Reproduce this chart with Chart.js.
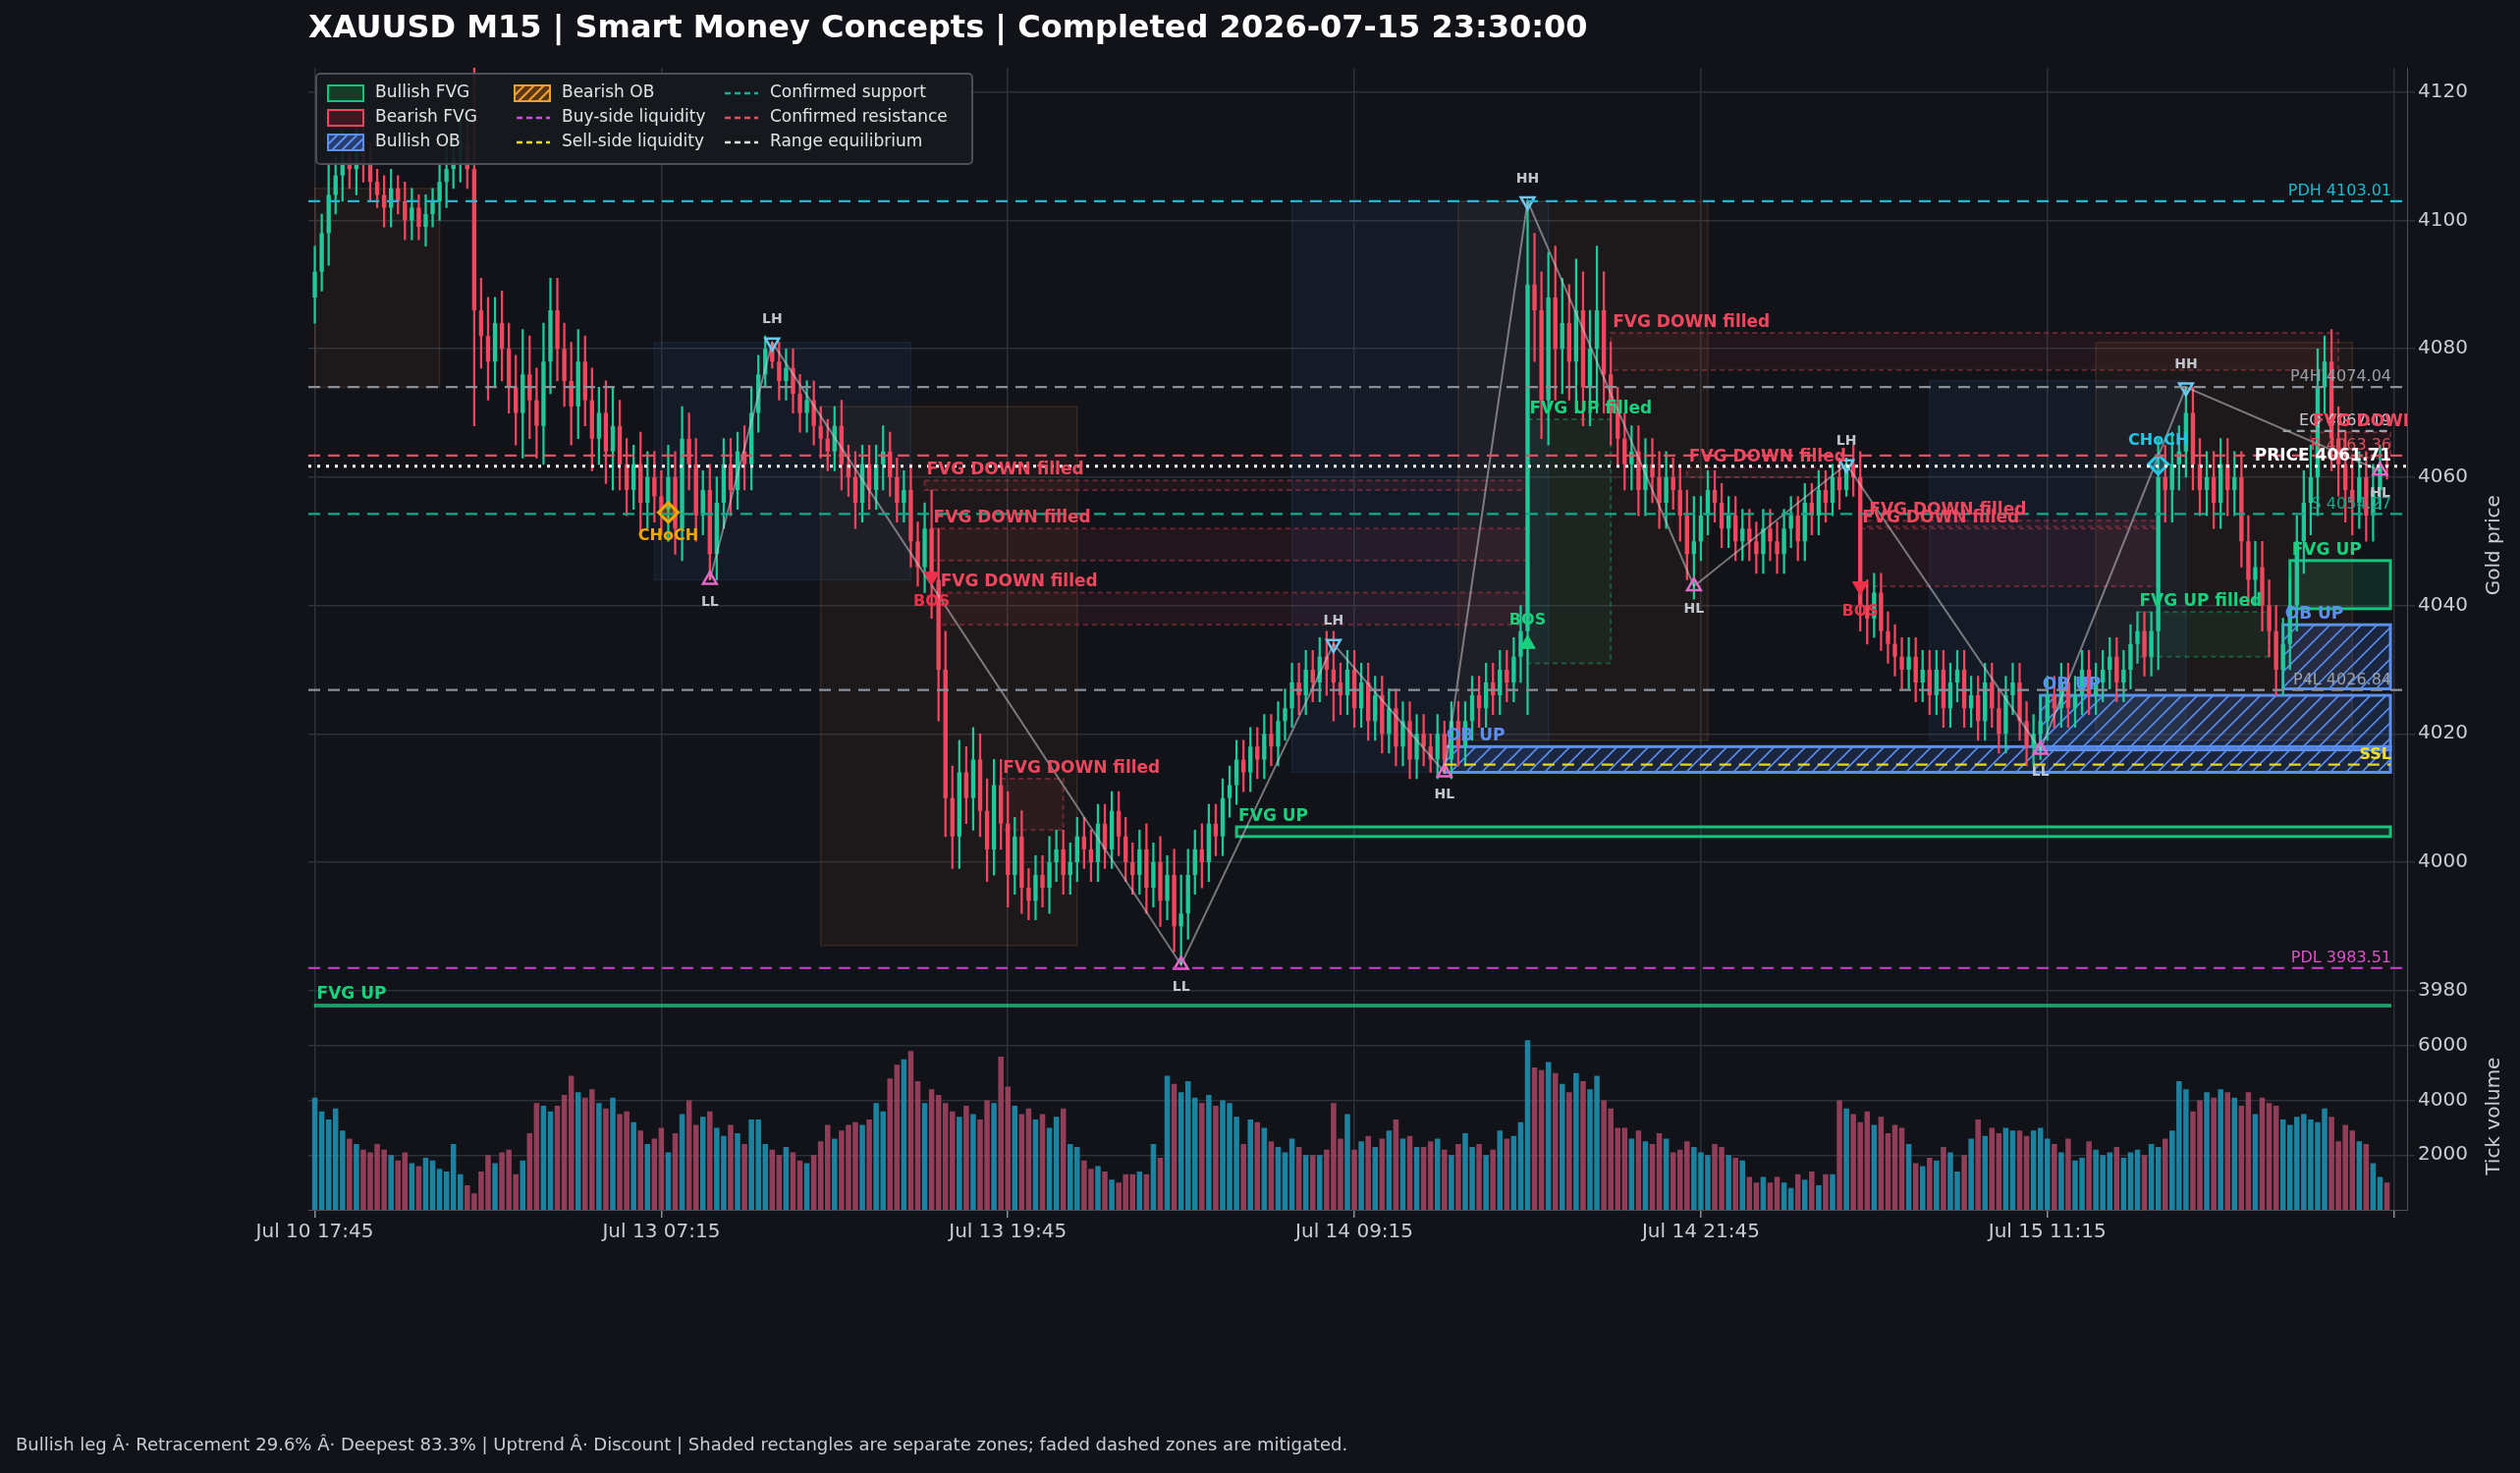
<!DOCTYPE html>
<html><head><meta charset="utf-8">
<script src="https://cdn.jsdelivr.net/npm/chart.js@4.4.0/dist/chart.umd.min.js"></script>
<style>html,body{margin:0;background:#111318;}#c{display:block;}</style>
</head><body>
<div style="width:2566px;height:1500px"><canvas id="c"></canvas></div>
<script>
// ---- data ----
const closes = [
4092,4098,4104,4107,4110,4108,4112,4109,4106,4104, 4102,4105,4103,4100,4102,4099,4101,4103,4106,4108,
4110,4112,4108,4086,4082,4078,4084,4080,4074,4070, 4076,4072,4068,4078,4086,4080,4075,4071,4078,4072,
4066,4070,4064,4068,4062,4058,4062,4056,4060,4057, 4055,4060,4052,4066,4062,4054,4058,4048,4056,4062,
4058,4064,4062,4070,4076,4080,4078,4075,4077,4073, 4070,4072,4068,4066,4064,4068,4062,4060,4056,4062,
4058,4062,4064,4060,4056,4058,4050,4046,4052,4044, 4030,4010,4004,4014,4010,4016,4008,4002,4012,4006,
3998,4004,3996,3994,3998,3996,4000,4002,3998,4000, 4004,4002,4000,4006,4002,4008,4004,4000,3998,4002,
3996,4000,3994,3998,3990,3992,3998,4002,4000,4006, 4004,4010,4012,4016,4014,4018,4016,4020,4018,4022,
4024,4028,4026,4030,4028,4032,4030,4028,4026,4030, 4024,4028,4022,4026,4020,4024,4018,4022,4016,4020,
4018,4016,4020,4016,4022,4018,4022,4026,4024,4028, 4026,4030,4028,4032,4036,4090,4086,4072,4088,4080,
4084,4078,4086,4074,4080,4086,4076,4070,4066,4062, 4064,4058,4062,4060,4056,4060,4058,4054,4048,4050,
4054,4058,4056,4052,4054,4050,4052,4050,4048,4052, 4050,4048,4052,4054,4050,4056,4054,4058,4056,4060,
4058,4062,4060,4040,4038,4042,4036,4034,4032,4030, 4032,4028,4030,4026,4030,4024,4028,4030,4024,4026,
4022,4028,4024,4020,4026,4028,4022,4018,4020,4022, 4026,4024,4028,4024,4026,4030,4026,4028,4030,4032,
4028,4030,4034,4036,4032,4036,4060,4058,4062,4064, 4070,4062,4058,4060,4056,4062,4058,4060,4050,4044,
4046,4040,4036,4030,4034,4040,4050,4056,4060,4074, 4078,4066,4062,4058,4056,4060,4054,4058,4062,4061.71];
const wicks = [
4,3,5,3,4,3,4,3,3,2, 3,3,2,3,3,2,3,2,3,4, 3,4,3,18,5,6,4,5,4,5, 7,6,5,6,5,5,4,6,5,4,
5,4,5,6,4,4,3,5,4,4, 4,5,4,5,4,4,3,4,4,4, 4,3,4,4,3,2,1,3,3,3, 3,3,3,3,3,3,4,3,4,3,
3,3,4,3,3,3,4,3,4,6, 8,6,5,5,4,5,4,5,4,4, 5,3,4,3,3,3,4,3,3,3, 3,3,3,3,3,3,3,3,3,3,
4,3,4,3,4,6,4,3,4,3, 3,3,3,3,3,3,3,3,3,3, 3,3,3,3,3,3,4,6,3,3, 3,3,3,3,3,3,3,3,3,3,
3,2,3,2,3,3,3,3,3,3, 3,3,3,3,4,13,8,6,7,8, 7,6,8,6,6,10,6,5,4,4, 4,4,4,4,4,4,3,4,4,7,
3,3,3,3,3,3,3,3,3,3, 3,3,3,3,3,3,3,3,3,2, 3,1,3,4,4,3,3,3,3,3, 3,3,3,3,3,3,3,3,3,3,
3,3,3,3,3,3,3,3,3,4, 3,3,3,3,3,3,3,3,3,3, 3,3,3,3,3,3,6,5,5,4, 4,4,4,4,4,4,4,4,4,4,
4,4,4,4,4,4,4,5,5,6, 4,5,5,5,5,4,4,4,3,2];
const volumes = [
4100,3600,3300,3700,2900,2600,2400,2200,2100,2400, 2200,2000,1800,2100,1700,1600,1900,1800,1500,1400,
2400,1300,900,600,1400,2000,1700,2100,2200,1300, 1800,2800,3900,3800,3600,3800,4200,4900,4300,4100,
4400,3900,3700,4100,3500,3600,3200,2900,2400,2600, 3000,2100,2800,3500,4000,3100,3400,3600,3000,2700,
3100,2800,2400,3300,3300,2400,2200,2000,2300,2100, 1800,1700,2000,2500,3100,2600,2900,3100,3200,3100,
3300,3900,3600,4800,5300,5500,5800,4700,3900,4400, 4200,3900,3600,3400,3800,3500,3300,4000,3900,5600,
4500,3800,3500,3700,3300,3500,3000,3400,3700,2400, 2300,1800,1500,1600,1400,1100,1000,1300,1300,1400,
1300,2400,1900,4900,4600,4300,4700,4100,3900,4200, 3800,4000,3900,3400,2400,3300,3200,3000,2500,2300,
2100,2600,2300,2000,2000,2000,2200,3900,2600,3500, 2200,2500,2700,2300,2600,2900,3300,2600,2700,2300,
2300,2500,2600,2200,2000,2400,2800,2300,2400,2000, 2200,2900,2600,2700,3200,6200,5200,5100,5400,5000,
4600,4300,5000,4700,4400,4900,4000,3700,3000,3000, 2600,2900,2500,2400,2800,2600,2100,2200,2500,2300,
2100,2000,2400,2300,2000,1900,1800,1200,1000,1200, 1000,1200,1000,800,1300,1100,1400,900,1300,1300,
4000,3700,3500,3200,3600,3100,3400,2800,3100,3000, 2400,1700,1600,1900,1800,2300,2100,1400,2000,2600,
3300,2700,3000,2800,3000,2900,2900,2700,2900,3000, 2600,2400,2100,2600,1800,1900,2500,2200,2000,2100,
2300,1900,2100,2200,2000,2400,2300,2600,2900,4700, 4400,3600,4000,4300,4100,4400,4300,4100,3800,4300,
3500,4100,3900,3800,3300,3100,3400,3500,3300,3200, 3700,3400,2500,3100,2900,2500,2400,1700,1200,1000];
const tickLabels = {0:'Jul 10 17:45',50:'Jul 13 07:15',100:'Jul 13 19:45',150:'Jul 14 09:15',200:'Jul 14 21:45',250:'Jul 15 11:15',300:''};
const priceTicks = [3980,4000,4020,4040,4060,4080,4100,4120];
const volTicks = [2000,4000,6000];

// zones: [fromBar, toBar, low, high, label]
const bearObZones = [[0,18,4074,4105],[73,110,3987,4071],[165,201,4019,4103],[257,294,4019,4081]];
const bullObFaint = [[49,86,4044,4081],[141,178,4014,4103],[233,270,4019,4075]];
const bullObActive = [[163,299.5,4014,4018,'OB UP'],[249,299.5,4017.5,4026,'OB UP'],[284,299.5,4027,4037,'OB UP']];
const fvgDownFilled = [[88,175,4058,4059.5,'FVG DOWN filled'],[89,175,4047,4052,'FVG DOWN filled'],[90,175,4037,4042,'FVG DOWN filled'],
  [99,108,4005,4013,'FVG DOWN filled'],[187,292,4076.7,4082.5,'FVG DOWN filled'],[198,217,4060,4061.5,'FVG DOWN filled'],
  [223,266,4043,4052,'FVG DOWN filled'],[224,266,4052.3,4053.2,'FVG DOWN filled'],[288,299.5,4063,4067,'FVG DOWN filled']];
const fvgUpFilled = [[175,187,4031,4069,'FVG UP filled'],[263,282,4032,4039,'FVG UP filled']];
const fvgUpActive = [[285,299.5,4039.5,4047,'FVG UP'],[133,299.5,4004,4005.5,'FVG UP'],[0,299.5,3977.5,3977.8,'FVG UP']];
// levels: [price, kind, fromBar, label]
const levels = [[4103.01,'pdh',-1,'PDH 4103.01'],[4074.04,'p4',-1,'P4H 4074.04'],[4067.19,'eq',284,'EQ 4067.19'],
  [4063.36,'res',-1,'R 4063.36'],[4061.71,'price',-1,'PRICE 4061.71'],[4054.27,'sup',-1,'S 4054.27'],
  [4026.84,'p4',-1,'P4L 4026.84'],[4015.2,'ssl',163,'SSL'],[3983.51,'pdl',-1,'PDL 3983.51']];
// swings: [bar, price, label, isHigh]
const swings = [[57,4044,'LL',0],[66,4081,'LH',1],[125,3984,'LL',0],[147,4034,'LH',1],[163,4014,'HL',0],
  [175,4103,'HH',1],[199,4043,'HL',0],[221,4062,'LH',1],[249,4017.5,'LL',0],[270,4074,'HH',1],[298,4061,'HL',0]];
// structure events: [bar, price, label, kind]
const events = [[51,4054.5,'CHoCH','chochBear'],[89,4044.5,'BOS','bosDown'],[175,4034,'BOS','bosUp'],
  [223,4043,'BOS','bosDown'],[266,4062,'CHoCH','chochBull']];

// ---- styling ----
const UP='#22c79a', DN='#f2475f';
const candleData=[], wickData=[], volData=[], cCol=[], vCol=[];
let prev = closes[0]-4;
closes.forEach((c,i)=>{
  const o = prev;
  candleData.push({x:i,y:[o,c]});
  wickData.push({x:i,y:[Math.min(o,c)-wicks[i],Math.max(o,c)+wicks[i]]});
  volData.push({x:i,y:volumes[i]});
  cCol.push(c>=o?UP:DN);
  vCol.push(c>=o?'rgba(30,150,185,0.85)':'rgba(170,70,100,0.85)');
  prev=c;
});

const levelStyle = {pdh:['#1fb8d0',[12,8],'#1fb8d0'],p4:['#8a8f98',[12,8],'#9aa0a8'],eq:['#9aa0a8',[8,6],'#c8ccd4'],
  res:['#e0505e',[12,8],'#e0505e'],price:['#ffffff',[3,6],'#ffffff'],sup:['#14a88a',[12,8],'#14a88a'],
  ssl:['#e8d620',[12,8],'#f0e020'],pdl:['#d040c8',[12,8],'#e050c8']};

const zonePlugin = {
  id:'zones',
  beforeDatasetsDraw(chart){
    const {ctx,chartArea:a,scales:{x,y}}=chart;
    ctx.save();ctx.beginPath();ctx.rect(a.left,a.top,a.right-a.left,a.bottom-a.top);ctx.clip();
    const box=(z,fill,stroke,dash,lw)=>{
      const x0=x.getPixelForValue(z[0]),x1=x.getPixelForValue(z[1]);
      const y0=y.getPixelForValue(z[3]),y1=y.getPixelForValue(z[2]);
      ctx.fillStyle=fill;ctx.fillRect(x0,y0,x1-x0,y1-y0);
      if(stroke){ctx.setLineDash(dash||[]);ctx.lineWidth=(y1-y0<3)?1.5:(lw||1.5);ctx.strokeStyle=stroke;ctx.strokeRect(x0,y0,x1-x0,y1-y0);ctx.setLineDash([]);}
    };
    bearObZones.forEach(z=>box(z,'rgba(200,120,60,0.07)','rgba(200,120,60,0.18)'));
    bullObFaint.forEach(z=>box(z,'rgba(70,120,200,0.08)','rgba(70,120,200,0.14)'));
    fvgDownFilled.forEach(z=>box(z,'rgba(200,60,80,0.09)','rgba(200,60,80,0.45)',[5,4],2));
    fvgUpFilled.forEach(z=>box(z,'rgba(30,180,110,0.08)','rgba(30,180,110,0.4)',[5,4],2));
    fvgUpActive.forEach(z=>box(z,'rgba(30,200,120,0.13)','#19c37d',null,3));
    bullObActive.forEach(z=>{
      box(z,'rgba(70,130,240,0.18)','#5b8ff0',null,3);
      const x0=x.getPixelForValue(z[0]),x1=x.getPixelForValue(z[1]),y0=y.getPixelForValue(z[3]),y1=y.getPixelForValue(z[2]);
      ctx.save();ctx.beginPath();ctx.rect(x0,y0,x1-x0,y1-y0);ctx.clip();
      ctx.strokeStyle='#5b8ff0';ctx.lineWidth=1.6;ctx.beginPath();
      for(let s=x0-(y1-y0);s<x1;s+=16){ctx.moveTo(s,y1);ctx.lineTo(s+(y1-y0),y0);}
      ctx.stroke();ctx.restore();
    });
    ctx.restore();
  },
  afterDatasetsDraw(chart){
    const {ctx,chartArea:a,scales:{x,y}}=chart;
    ctx.save();ctx.beginPath();ctx.rect(a.left,a.top,a.right-a.left,a.bottom-a.top);ctx.clip();
    levels.forEach(l=>{
      const st=levelStyle[l[1]];const py=y.getPixelForValue(l[0]);
      const x0=l[2]<0?a.left:x.getPixelForValue(l[2]);const x1=(l[1]==='ssl'||l[1]==='eq')?x.getPixelForValue(299.5):a.right;
      ctx.strokeStyle=st[0];ctx.lineWidth=l[1]==='price'?3:2.2;ctx.setLineDash(st[1]);
      ctx.beginPath();ctx.moveTo(x0,py);ctx.lineTo(x1,py);ctx.stroke();ctx.setLineDash([]);
    });
    ctx.textBaseline='bottom';
    levels.forEach(l=>{
      const st=levelStyle[l[1]];const py=y.getPixelForValue(l[0]);
      ctx.textAlign='right';
      ctx.font=(l[1]==='price'||l[1]==='ssl'?'bold ':'')+(l[1]==='price'?'17px':'16px')+' "DejaVu Sans"';
      ctx.fillStyle=st[2];ctx.fillText(l[3],a.right-16,py-2);
    });
    ctx.font='bold 17px "DejaVu Sans"';ctx.textAlign='left';ctx.textBaseline='bottom';
    const lab=(z,c)=>{ctx.fillStyle=c;ctx.fillText(z[4],x.getPixelForValue(z[0])+2,y.getPixelForValue(z[3])-2);};
    fvgDownFilled.forEach(z=>lab(z,'#f2475f'));
    fvgUpFilled.forEach(z=>lab(z,'#19d07d'));
    fvgUpActive.forEach(z=>lab(z,'#19d07d'));
    bullObActive.forEach(z=>lab(z,'#5b8ff0'));
    ctx.textAlign='center';
    swings.forEach(s=>{
      const px=x.getPixelForValue(s[0]),py=y.getPixelForValue(s[1]);
      ctx.fillStyle='#c0c4cc';ctx.font='bold 14px "DejaVu Sans"';
      if(s[3]){ctx.textBaseline='bottom';ctx.fillText(s[2],px,py-16);}else{ctx.textBaseline='top';ctx.fillText(s[2],px,py+16);}
    });
    events.forEach(e=>{
      const px=x.getPixelForValue(e[0]),py=y.getPixelForValue(e[1]);
      ctx.font='bold 16px "DejaVu Sans"';
      if(e[3]==='chochBear'){ctx.fillStyle='#f0a800';ctx.textBaseline='top';ctx.fillText(e[2],px,py+16);}
      if(e[3]==='chochBull'){ctx.fillStyle='#20c8e8';ctx.textBaseline='bottom';ctx.fillText(e[2],px,py-16);}
      if(e[3]==='bosDown'){ctx.fillStyle='#f0304a';ctx.textBaseline='top';ctx.fillText(e[2],px,py+18);}
      if(e[3]==='bosUp'){ctx.fillStyle='#19d07d';ctx.textBaseline='bottom';ctx.fillText(e[2],px,py-16);}
    });
    ctx.restore();
  },
  afterDraw(chart){
    const {ctx,scales:{y,yv}}=chart;
    ctx.save();
    ctx.fillStyle='#ffffff';ctx.font='bold 32px "DejaVu Sans"';ctx.textBaseline='middle';ctx.textAlign='left';
    ctx.fillText('XAUUSD M15 | Smart Money Concepts | Completed 2026-07-15 23:30:00',314,30);
    ctx.fillStyle='#c8ccd4';ctx.font='18px "DejaVu Sans"';
    ctx.fillText('Bullish leg Â· Retracement 29.6% Â· Deepest 83.3% | Uptrend Â· Discount | Shaded rectangles are separate zones; faded dashed zones are mitigated.',16,1472);
    // axis titles
    ctx.font='20px "DejaVu Sans"';ctx.textAlign='center';ctx.fillStyle='#c8ccd4';
    [[y,'Gold price'],[yv,'Tick volume']].forEach(([s,t])=>{
      ctx.save();ctx.translate(2540,(s.top+s.bottom)/2);ctx.rotate(-Math.PI/2);ctx.fillText(t,0,0);ctx.restore();
    });
    // legend
    const L=322,T=75;
    ctx.fillStyle='rgba(22,25,30,0.92)';ctx.strokeStyle='#4a4f58';ctx.lineWidth=2;
    ctx.beginPath();ctx.roundRect(L,T,668,92,4);ctx.fill();ctx.stroke();
    const items=[
      [0,0,'Bullish FVG','box','rgba(20,60,40,1)','#19c37d'],[0,1,'Bearish FVG','box','rgba(60,25,30,1)','#f2475f'],
      [0,2,'Bullish OB','hatch','rgba(40,60,110,1)','#5b8ff0'],[1,0,'Bearish OB','hatch','rgba(90,55,20,1)','#f0a030'],
      [1,1,'Buy-side liquidity','line','#d050e0'],[1,2,'Sell-side liquidity','line','#f0e020'],
      [2,0,'Confirmed support','line','#14b090'],[2,1,'Confirmed resistance','line','#e0505e'],[2,2,'Range equilibrium','line','#e8e8e8']];
    const colX=[L+12,L+202,L+414];
    ctx.font='17px "DejaVu Sans"';ctx.textBaseline='middle';ctx.textAlign='left';
    items.forEach(it=>{
      const cx=colX[it[0]],cy=T+20+it[1]*25;
      if(it[3]==='line'){
        ctx.strokeStyle=it[4];ctx.lineWidth=2.5;ctx.setLineDash([6,4]);ctx.beginPath();ctx.moveTo(cx+2,cy);ctx.lineTo(cx+36,cy);ctx.stroke();ctx.setLineDash([]);
      } else {
        ctx.fillStyle=it[4];ctx.fillRect(cx,cy-8,36,16);ctx.strokeStyle=it[5];ctx.lineWidth=2;ctx.strokeRect(cx,cy-8,36,16);
        if(it[3]==='hatch'){ctx.save();ctx.beginPath();ctx.rect(cx,cy-8,36,16);ctx.clip();ctx.beginPath();
          for(let s=cx-16;s<cx+36;s+=10){ctx.moveTo(s,cy+8);ctx.lineTo(s+16,cy-8);}ctx.stroke();ctx.restore();}
      }
      ctx.fillStyle='#e0e2e6';ctx.fillText(it[2],cx+48,cy);
    });
    ctx.restore();
  }
};

const highSw = swings.filter(s=>s[3]).map(s=>({x:s[0],y:s[1]}));
const lowSw = swings.filter(s=>!s[3]).map(s=>({x:s[0],y:s[1]}));
const evPt = k=>events.filter(e=>e[3]===k).map(e=>({x:e[0],y:e[1]}));
const setTicks = arr => s => { s.ticks = arr.map(v=>({value:v})); };
const fixW = s => { s.width = 107; };

new Chart(document.getElementById('c'),{
  data:{datasets:[
    {type:'line',data:swings.map(s=>({x:s[0],y:s[1]})),borderColor:'rgba(200,200,205,0.55)',borderWidth:2,pointRadius:0,order:1},
    {type:'scatter',data:highSw,pointStyle:'triangle',rotation:180,radius:8,borderColor:'#6cc8f0',borderWidth:2.5,backgroundColor:'rgba(0,0,0,0)',order:0},
    {type:'scatter',data:lowSw,pointStyle:'triangle',radius:8,borderColor:'#e868c8',borderWidth:2.5,backgroundColor:'rgba(0,0,0,0)',order:0},
    {type:'scatter',data:evPt('chochBear'),pointStyle:'rectRot',radius:10,borderColor:'#f0a800',borderWidth:3,backgroundColor:'rgba(240,168,0,0.3)',order:0},
    {type:'scatter',data:evPt('chochBull'),pointStyle:'rectRot',radius:10,borderColor:'#20c8e8',borderWidth:3,backgroundColor:'rgba(32,200,232,0.3)',order:0},
    {type:'scatter',data:evPt('bosDown'),pointStyle:'triangle',rotation:180,radius:9,borderColor:'#f0304a',backgroundColor:'#f0304a',order:0},
    {type:'scatter',data:evPt('bosUp'),pointStyle:'triangle',radius:9,borderColor:'#19d07d',backgroundColor:'#19d07d',order:0},
    {type:'bar',data:candleData,backgroundColor:cCol,borderWidth:0,barPercentage:0.62,categoryPercentage:1,grouped:false,order:2},
    {type:'bar',data:wickData,backgroundColor:cCol,borderWidth:0,barThickness:1.6,grouped:false,order:3},
    {type:'bar',data:volData,yAxisID:'yv',backgroundColor:vCol,borderWidth:0,barPercentage:0.78,categoryPercentage:1,grouped:false,order:3}
  ]},
  options:{
    responsive:true,maintainAspectRatio:false,animation:false,
    layout:{padding:{left:314,top:69,right:8,bottom:230}},
    plugins:{legend:{display:false},tooltip:{enabled:false}},
    scales:{
      x:{type:'linear',min:-0.93,max:301.9,offset:false,afterBuildTicks:setTicks([0,50,100,150,200,250,300]),
        grid:{color:'#2c3038',lineWidth:1.5,offset:false,drawTicks:true,tickColor:'#8a8f98'},border:{color:'#4a4f58'},
        ticks:{autoSkip:false,color:'#c8ccd4',font:{size:20,family:'DejaVu Sans'},maxRotation:0,
          callback:v=>tickLabels[v]??''}},
      y:{type:'linear',position:'right',stack:'p',stackWeight:5.1,min:3975,max:4123.8,
        afterBuildTicks:setTicks(priceTicks),afterFit:fixW,
        grid:{color:'#2c3038',lineWidth:1.5},border:{color:'#4a4f58'},
        ticks:{color:'#c8ccd4',font:{size:20,family:'DejaVu Sans'},callback:v=>String(v)}},
      yv:{type:'linear',position:'right',stack:'p',stackWeight:1,min:0,max:6840,offset:false,
        afterBuildTicks:setTicks(volTicks),afterFit:fixW,
        grid:{color:'#2c3038',lineWidth:1.5},border:{color:'#4a4f58'},
        ticks:{color:'#c8ccd4',font:{size:20,family:'DejaVu Sans'},callback:v=>String(v)}}
    }
  },
  plugins:[zonePlugin]
});
</script>
</body></html>
